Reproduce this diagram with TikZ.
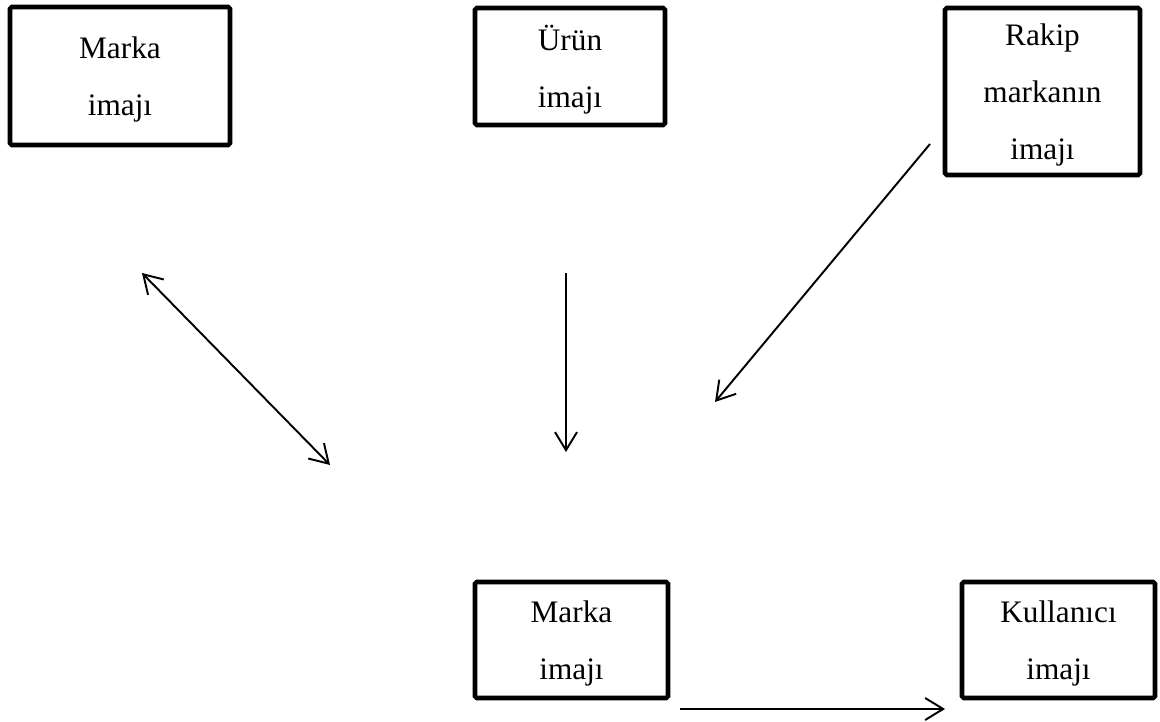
\documentclass[tikz,border=0pt]{standalone}
\usepackage{fontspec}
\setmainfont{Liberation Serif}
\usetikzlibrary{arrows.meta}

\begin{document}
\begin{tikzpicture}[
    imgbox/.style={draw,line width=2.6pt,rounded corners=1pt,align=center,text depth=0pt,
      font=\fontsize{17.8}{32.5}\selectfont},
    link/.style={line width=1.1pt,-{Straight Barb[length=3.6mm,width=4.4mm]}}]
    \useasboundingbox (0,0) rectangle (23.2,-14.44);
    % top row
    \node[imgbox,minimum width=4.4cm,minimum height=2.76cm] (marka) at (2.4,-1.52) {Marka\\imajı};
    \node[imgbox,minimum width=3.8cm,minimum height=2.34cm] (urun) at (11.4,-1.33) {Ürün\\imajı};
    \node[imgbox,minimum width=3.9cm,minimum height=3.34cm] (rakip) at (20.85,-1.83) {Rakip\\markanın\\imajı};
    % bottom row
    \node[imgbox,minimum width=3.86cm,minimum height=2.32cm] (markab) at (11.43,-12.8) {Marka\\imajı};
    \node[imgbox,minimum width=3.86cm,minimum height=2.32cm] (kull) at (21.17,-12.8) {Kullanıcı\\imajı};
    % free arrow ends
    \coordinate (m1) at (2.84,-5.46);
    \coordinate (m2) at (6.6,-9.3);
    \coordinate (u1) at (11.32,-5.46);
    \coordinate (u2) at (11.32,-9.04);
    \coordinate (r1) at (18.6,-2.88);
    \coordinate (r2) at (14.3,-8.04);
    \coordinate (k1) at (13.6,-14.18);
    \coordinate (k2) at (18.9,-14.18);
    \draw[link,{Straight Barb[length=3.6mm,width=4.4mm]}-{Straight Barb[length=3.6mm,width=4.4mm]}] (m1) -- (m2);
    \draw[link] (u1) -- (u2);
    \draw[link] (r1) -- (r2);
    \draw[link] (k1) -- (k2);
\end{tikzpicture}
\end{document}
